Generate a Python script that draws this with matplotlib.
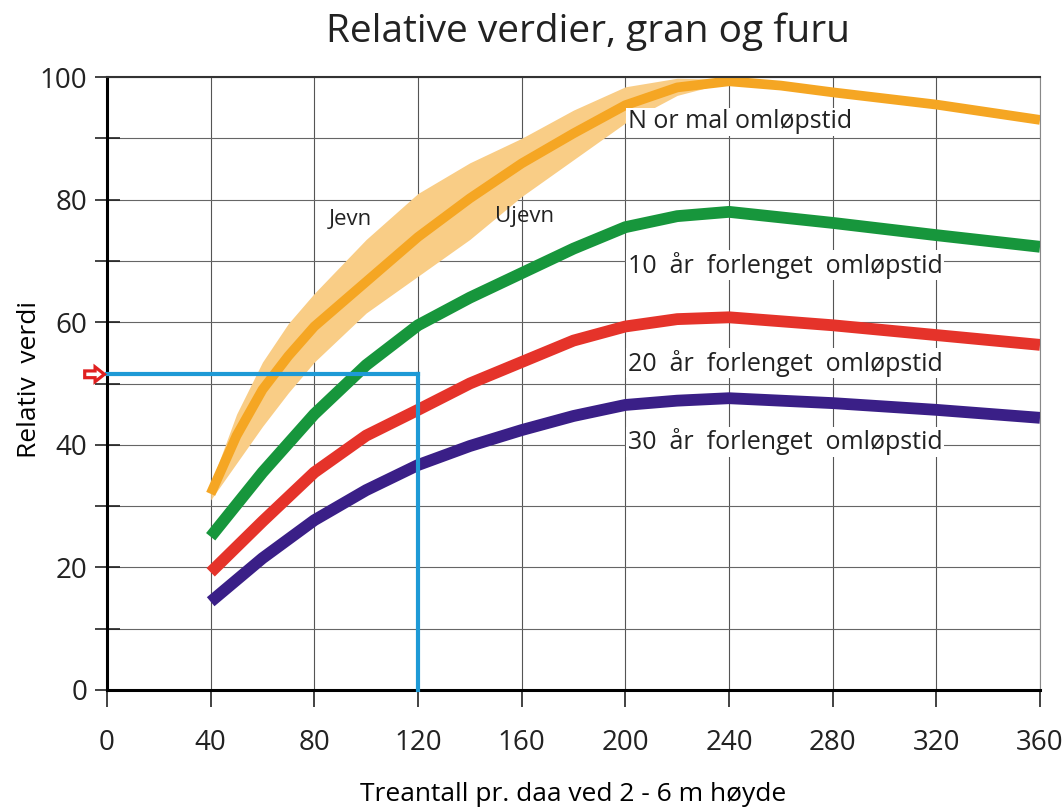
import matplotlib
matplotlib.use("Agg")
import matplotlib.pyplot as plt
from matplotlib.patches import FancyArrow
import numpy as np

plt.rcParams['font.family'] = ['Open Sans', 'DejaVu Sans']

# Data
x_normal = [40, 50, 60, 70, 80, 100, 120, 140, 160, 180, 200, 220, 240, 260, 280, 320, 360]
normal = [32.0, 41.5, 49.0, 54.5, 59.3, 66.6, 73.9, 80.2, 85.9, 90.8, 95.4, 98.3, 99.3, 98.6, 97.5, 95.5, 93.0]
band_low = [31.0, 37.0, 43.0, 48.5, 53.5, 61.5, 67.5, 73.5, 80.5, 86.5, 92.5, 97.0, 99.2, 98.6, 97.5, 95.5, 93.0]
band_high = [33.5, 45.0, 53.5, 59.8, 64.7, 73.5, 81.0, 86.0, 90.0, 94.6, 98.4, 99.8, 99.6, 98.6, 97.5, 95.5, 93.0]

x_vals = [40, 60, 80, 100, 120, 140, 160, 180, 200, 220, 240, 280, 320, 360]
ext10 = [25.0, 35.5, 45.0, 53.0, 59.5, 64.0, 68.0, 72.0, 75.5, 77.3, 78.0, 76.2, 74.2, 72.3]
ext20 = [19.2, 27.5, 35.5, 41.5, 45.7, 50.0, 53.5, 57.0, 59.3, 60.5, 60.8, 59.5, 57.9, 56.3]
ext30 = [14.4, 21.5, 27.7, 32.6, 36.7, 39.8, 42.4, 44.7, 46.5, 47.2, 47.6, 46.8, 45.7, 44.4]

example_x = 120
example_y = 51.5

labels = ["N or mal omløpstid", "10  år  forlenget  omløpstid",
          "20  år  forlenget  omløpstid", "30  år  forlenget  omløpstid"]
label_y = [92.7, 69.3, 53.3, 40.5]

x_ticks = [0, 40, 80, 120, 160, 200, 240, 280, 320, 360]
y_ticks = [0, 20, 40, 60, 80, 100]

fig = plt.figure(figsize=(10.63, 8.10), dpi=100)
ax = fig.add_axes([107/1063, 1-690/810, (1040-107)/1063, (690-77)/810])
ax.set_xlim(0, 360)
ax.set_ylim(0, 100)

# grid
for xv in x_ticks[1:]:
    ax.axvline(xv, color='#555555', lw=0.8, zorder=0)
for yv in range(10, 101, 10):
    ax.axhline(yv, color='#666666', lw=0.8, zorder=0)

# curves
ax.fill_between(x_normal, band_low, band_high, color='#F9CD86', lw=0, zorder=1)
ax.plot(x_normal, normal, color='#F5A623', lw=7, solid_capstyle='butt', solid_joinstyle='round', zorder=2)
for ys, c in [(ext10, '#17963C'), (ext20, '#E5332A'), (ext30, '#3A1F87')]:
    ax.plot(x_vals, ys, color=c, lw=8.5, solid_capstyle='butt', solid_joinstyle='round', zorder=2)

# example lines
ax.plot([0, example_x], [example_y, example_y], color='#1E9AD6', lw=3, zorder=3, clip_on=False)
ax.plot([example_x, example_x], [0, example_y], color='#1E9AD6', lw=3, zorder=3, clip_on=False)

# red hollow arrow pointing at the y value
arrow = FancyArrow(-8.6, example_y, 7.6, 0, width=1.1, head_width=2.4, head_length=3.6,
                   length_includes_head=True, fc='white', ec='#E02020', lw=2.3,
                   clip_on=False, zorder=5)
ax.add_patch(arrow)

# labels
for t, yv in zip(labels, label_y):
    ax.text(201, yv, t, fontsize=18, ha='left', va='center', color='#222222',
            bbox=dict(fc='white', ec='none', pad=1), zorder=4)
ax.text(93.8, 76.7, "Jevn", fontsize=16, ha='center', va='center', color='#222222', zorder=4)
ax.text(161.3, 77.2, "Ujevn", fontsize=16, ha='center', va='center', color='#222222', zorder=4)

# spines
ax.spines['left'].set_linewidth(2.2)
ax.spines['bottom'].set_linewidth(2.2)
ax.spines['top'].set_linewidth(1.5)
ax.spines['top'].set_color('#333333')
ax.spines['right'].set_linewidth(0.8)
ax.spines['right'].set_color('#888888')

ax.set_xticks(x_ticks)
ax.set_yticks(y_ticks)
ax.set_yticks(range(10, 100, 20), minor=True)
ax.tick_params(axis='y', which='both', direction='inout', length=18, width=1.2, colors='#222222',
               labelsize=20, pad=5)
ax.tick_params(axis='x', which='major', direction='out', length=12, width=1.2, colors='#222222',
               labelsize=20, pad=16)

ax.set_ylabel("Relativ  verdi", fontsize=19)
ax.yaxis.set_label_coords(-0.070, 0.506)
ax.set_xlabel("Treantall pr. daa ved 2 - 6 m høyde", fontsize=19)
ax.xaxis.set_label_coords(0.5, -0.150)
fig.text(588/1063, 1-32/810, "Relative verdier, gran og furu", fontsize=28, ha='center', va='center',
         color='#222222')

fig.savefig("out.png", dpi=100, facecolor='white')
